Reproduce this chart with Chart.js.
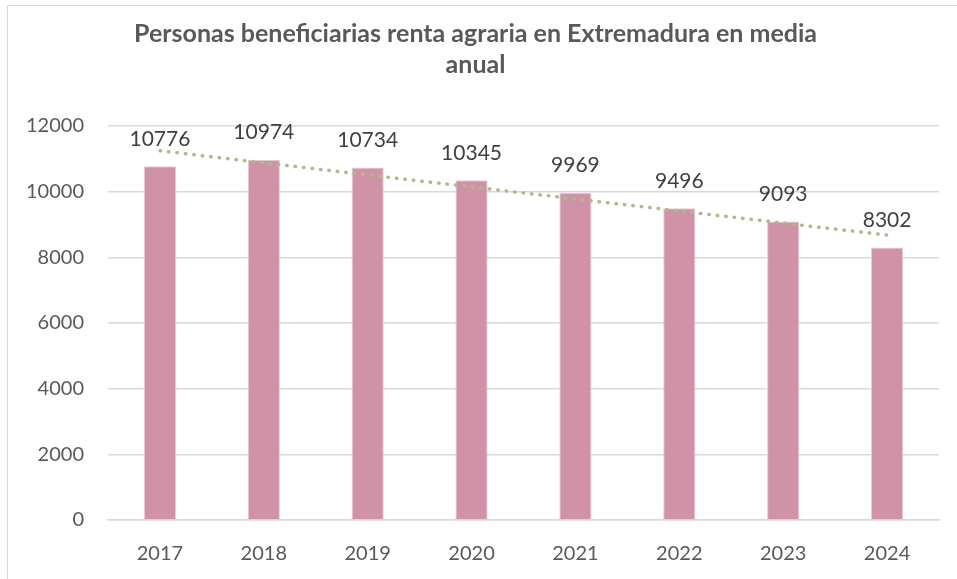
<!DOCTYPE html>
<html>
<head>
<meta charset="utf-8">
<script src="https://cdn.jsdelivr.net/npm/chart.js@4"></script>
<style>
  html, body { margin: 0; padding: 0; background: #fff; }
  #wrap { position: relative; width: 957px; height: 579px; }
  #frame { position: absolute; left: 7px; top: 5px; width: 960px; height: 600px; border: 1.5px solid #d9d9d9; box-sizing: border-box; }
  canvas { position: absolute; left: 0; top: 0; }
</style>
</head>
<body>
<div id="wrap">
  <div id="frame"></div>
  <canvas id="chart" width="957" height="579"></canvas>
</div>
<script>
// years and yearly average of beneficiaries
var years = ['2017', '2018', '2019', '2020', '2021', '2022', '2023', '2024'];
var beneficiaries = [10776, 10974, 10734, 10345, 9969, 9496, 9093, 8302];
var yTicks = [0, 2000, 4000, 6000, 8000, 10000, 12000];

// linear trendline (least squares over the bar values)
function linearTrend(values) {
    var n = values.length, sx = 0, sy = 0, sxy = 0, sxx = 0;
    for (var i = 0; i < n; i++) {
        sx += i; sy += values[i]; sxy += i * values[i]; sxx += i * i;
    }
    var slope = (n * sxy - sx * sy) / (n * sxx - sx * sx);
    var icpt = (sy - slope * sx) / n;
    return values.map(function(v, i) { return icpt + slope * i; });
}
var trend = linearTrend(beneficiaries);

// value labels above the bars
var barLabels = {
    id: 'barLabels',
    afterDatasetsDraw: function(chart) {
        var ctx = chart.ctx;
        var meta = chart.getDatasetMeta(0);
        ctx.save();
        ctx.font = '21px Lato';
        ctx.fillStyle = '#404040';
        ctx.textAlign = 'center';
        ctx.textBaseline = 'middle';
        meta.data.forEach(function(bar, i) {
            ctx.fillText(String(beneficiaries[i]), bar.x, bar.y - 27);
        });
        ctx.restore();
    }
};

var ctx = document.getElementById('chart').getContext('2d');
var chart = new Chart(ctx, {
    type: 'bar',
    data: {
        labels: years,
        datasets: [{
            type: 'bar',
            data: beneficiaries,
            backgroundColor: '#d092a7',
            borderColor: '#ecc9d5',
            borderWidth: 1,
            barPercentage: 0.31,
            categoryPercentage: 1,
            order: 2
        }, {
            type: 'line',
            data: trend,
            borderColor: '#a9bb8f',
            borderWidth: 3.5,
            borderDash: [0.5, 8],
            borderCapStyle: 'round',
            pointRadius: 0,
            fill: false,
            order: 1
        }]
    },
    options: {
        responsive: false,
        animation: false,
        layout: { padding: { left: 12, right: 18, top: 5, bottom: 0 } },
        plugins: {
            legend: { display: false },
            tooltip: { enabled: false },
            title: {
                display: true,
                text: ['Personas beneficiarias renta agraria en Extremadura en media', 'anual'],
                color: '#595959',
                font: { family: 'Lato', size: 25, weight: 'bold', lineHeight: 1.24 },
                padding: { top: 13, bottom: 46 }
            }
        },
        scales: {
            x: {
                grid: { display: false },
                border: { display: true, color: '#d9d9d9', width: 1.5 },
                ticks: { color: '#595959', font: { family: 'Lato', size: 20 }, padding: 14 },
                afterFit: function(scale) { scale.height = 59; }
            },
            y: {
                min: 0,
                max: 12000,
                afterBuildTicks: function(scale) {
                    scale.ticks = yTicks.map(function(v) { return { value: v }; });
                },
                grid: { color: '#d9d9d9', lineWidth: 1.5, drawTicks: false },
                border: { display: false },
                ticks: {
                    color: '#595959',
                    font: { family: 'Lato', size: 20 },
                    padding: 24,
                    callback: function(v) { return String(v); }
                },
                afterFit: function(scale) { scale.width = 96; }
            }
        }
    },
    plugins: [barLabels]
});
</script>
</body>
</html>
